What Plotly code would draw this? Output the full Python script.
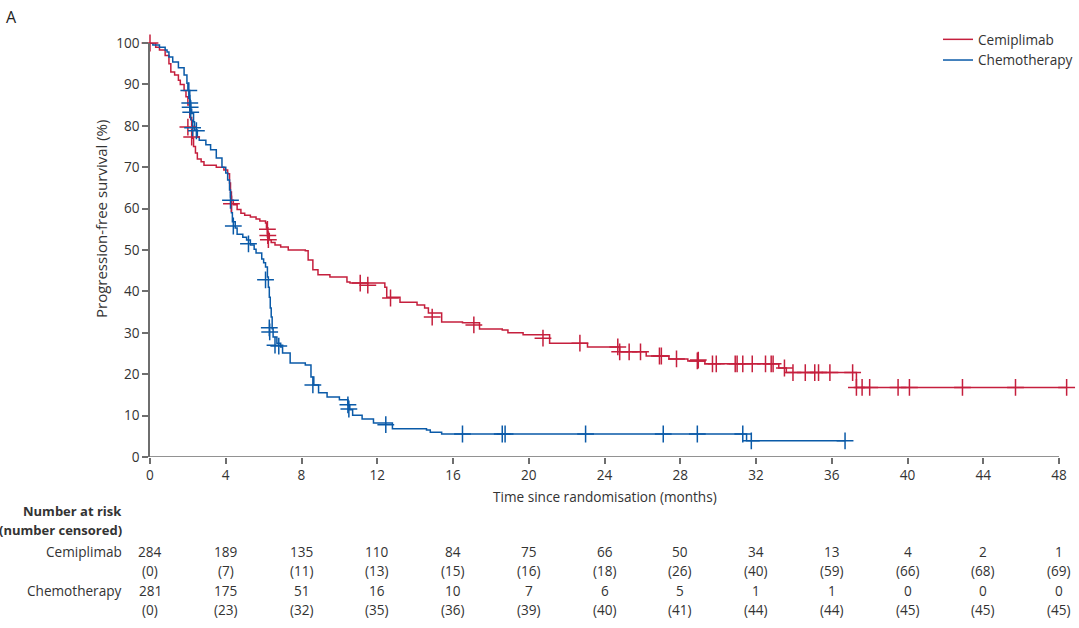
import plotly.graph_objects as go

# ---------------- data ----------------
cemi_t = [0, 0.3, 0.5, 0.8, 1.0, 1.1, 1.3, 1.5, 1.6, 1.8, 1.9, 2.0, 2.1, 2.2, 2.25, 2.3, 2.4, 2.5, 2.7,
          2.85, 3.5, 3.9, 4.1, 4.2, 4.25, 4.3, 4.4, 4.6, 4.8, 5.0, 5.3, 5.6, 5.8, 6.1, 6.15, 6.2, 6.3,
          6.4, 6.6, 6.9, 7.3, 8.2, 8.35, 8.6, 8.87, 9.5, 10.4, 10.56, 12.4, 12.5, 13.2, 14.1, 14.5,
          14.7, 15.4, 16.5, 17.4, 18.6, 18.9, 19.7, 21.1, 23.1, 24.8, 26.2, 27.4, 28.4, 29.3, 33.2,
          33.6, 37.3, 48.4]
cemi_s = [100, 99, 98.3, 97, 95, 93, 92.3, 91, 90, 88.5, 87, 85, 82, 80, 77, 75, 73.4, 72, 71.3,
          70.5, 70, 69.3, 68.4, 66.2, 64, 62, 60.9, 59.8, 58.9, 58.4, 58, 57.5, 57, 56.5, 55.3, 54, 52.5,
          51.8, 51.2, 50.7, 50, 49.8, 47.6, 45.2, 44, 43.5, 42.3, 42, 41, 38.6, 37.4, 36.7, 36,
          34.8, 32.6, 32.4, 30.9, 30.7, 30.0, 29.5, 27.5, 26.6, 25.4, 24.4, 23.7, 23.2, 22.5, 21.5,
          20.4, 16.8, 16.8]
cemi_cens_t = [0, 2.0, 2.2, 4.3, 6.2, 6.22, 6.25, 11.1, 11.5, 12.7, 14.9, 17.1, 20.75, 22.7, 24.7,
               24.8, 25.3, 25.9, 26.9, 27.0, 27.8, 28.9, 28.95, 29.7, 29.9, 30.9, 31.0, 31.3, 31.8,
               32.5, 32.8, 32.9, 33.5, 33.95, 34.6, 35.1, 35.3, 35.9, 37.1, 37.3, 37.6, 38.0, 39.5,
               40.1, 42.9, 45.7, 48.4]
cemi_cens_s = [100, 79.7, 77.3, 61.2, 55, 53.5, 52.5, 42, 41.5, 38.4, 33.8, 31.9, 28.7, 27.5, 26.6,
               25.4, 25.4, 25.4, 24.4, 24.4, 23.7, 23.2, 23.4, 22.5, 22.5, 22.5, 22.5, 22.5, 22.5,
               22.5, 22.5, 22.5, 21.5, 20.4, 20.4, 20.4, 20.4, 20.4, 20.4, 16.8, 16.8, 16.8, 16.8,
               16.8, 16.8, 16.8, 16.8]

chemo_t = [0, 0.15, 0.5, 0.8, 0.9, 1.0, 1.2, 1.5, 1.8, 1.95, 2.0, 2.1, 2.15, 2.2, 2.3, 2.35, 2.5,
           2.6, 2.95, 3.2, 3.5, 3.8, 4.0, 4.1, 4.2, 4.25, 4.3, 4.35, 4.5, 4.6, 4.9, 5.1, 5.3, 5.5,
           5.6, 5.9, 6.0, 6.1, 6.2, 6.25, 6.3, 6.35, 6.4, 6.45, 6.5, 6.7, 6.9, 7.0, 7.4, 8.2, 8.5,
           8.65, 8.9, 9.35, 10.0, 10.45, 10.55, 10.7, 11.2, 11.8, 12.8, 14.6, 14.8, 15.4, 31.5, 36.7]
chemo_s = [100, 99.5, 99, 98.3, 97.8, 96.6, 95.4, 94, 92.3, 90.3, 88.5, 86, 84, 83, 81, 79, 77.3,
           76.5, 75.4, 74.2, 72.2, 70, 68.6, 66.9, 64.5, 62.8, 59, 56.8, 55.3, 53.8, 53.1, 52.4, 51.2,
           50.2, 49.3, 47.8, 46.9, 45.9, 43.5, 41, 38.6, 36, 33.8, 31, 29, 27.5, 26.6, 25.1, 22.7,
           22.2, 19.3, 17.4, 15.5, 14.5, 13.8, 12.5, 11.4, 10.1, 9.2, 8.2, 6.8, 6.5, 6.0, 5.55, 3.9,
           3.9]
chemo_cens_t = [2.05, 2.1, 2.12, 2.15, 2.25, 2.45, 4.25, 4.4, 5.2, 6.1, 6.3, 6.32, 6.6, 6.8, 8.6,
                10.45, 10.5, 12.45, 16.5, 18.6, 18.75, 23.0, 27.1, 28.9, 31.3, 31.75, 36.7]
chemo_cens_s = [88.5, 85.5, 84.5, 83.3, 79.5, 78.8, 62, 55.8, 51.5, 42.8, 31.2, 30.2, 27, 26.8, 17.4,
                12.6, 11.6, 7.8, 5.55, 5.55, 5.55, 5.55, 5.55, 5.55, 5.55, 3.9, 3.9]

risk_months = [0, 4, 8, 12, 16, 20, 24, 28, 32, 36, 40, 44, 48]
cemi_risk = [284, 189, 135, 110, 84, 75, 66, 50, 34, 13, 4, 2, 1]
cemi_cens = [0, 7, 11, 13, 15, 16, 18, 26, 40, 59, 66, 68, 69]
chemo_risk = [281, 175, 51, 16, 10, 7, 6, 5, 1, 1, 0, 0, 0]
chemo_cens = [0, 23, 32, 35, 36, 39, 40, 41, 44, 44, 45, 45, 45]

x_ticks = [0, 4, 8, 12, 16, 20, 24, 28, 32, 36, 40, 44, 48]
y_ticks = [0, 10, 20, 30, 40, 50, 60, 70, 80, 90, 100]

# ---------------- style ----------------
RED = "#c51f3d"
BLUE = "#0a5aa8"
AXIS = "#6e6e6e"
TXT = "#333333"
FONT = "Open Sans"
FS = 13.6

W, H = 1079, 628
ML, MR, MT, MB = 150, 1, 43, 171
PH = H - MT - MB
PW = W - ML - MR


def py(p):
    """pixel y -> paper y"""
    return (H - MB - p) / PH


def px(p):
    """pixel x -> paper x"""
    return (p - ML) / PW


fig = go.Figure()
fig.add_trace(go.Scatter(x=cemi_t, y=cemi_s, mode="lines", line=dict(color=RED, width=1.5, shape="hv"),
                         name="Cemiplimab"))
fig.add_trace(go.Scatter(x=chemo_t, y=chemo_s, mode="lines", line=dict(color=BLUE, width=1.5, shape="hv"),
                         name="Chemotherapy"))
fig.add_trace(go.Scatter(x=cemi_cens_t, y=cemi_cens_s, mode="markers", showlegend=False, cliponaxis=False,
                         marker=dict(symbol="cross-thin", size=12, line=dict(color=RED, width=1.5))))
fig.add_trace(go.Scatter(x=chemo_cens_t, y=chemo_cens_s, mode="markers", showlegend=False, cliponaxis=False,
                         marker=dict(symbol="cross-thin", size=12, line=dict(color=BLUE, width=1.5))))

# x axis line only up to 48
fig.add_shape(type="line", xref="x", yref="y", x0=0, x1=48, y0=0, y1=0,
              line=dict(color=AXIS, width=1.5), layer="above")

ann = []
ann.append(dict(text="A", xref="paper", yref="paper", x=px(4), y=py(17),
                xanchor="left", yanchor="middle", showarrow=False, font=dict(size=16, color="#222")))
ann.append(dict(text="Time since randomisation (months)", xref="x", yref="paper", x=24, y=py(496),
                xanchor="center", yanchor="middle", showarrow=False, font=dict(size=FS, color=TXT)))
ann.append(dict(text="Progression-free survival (%)", xref="paper", yref="paper",
                x=px(101), y=py(219), textangle=-90, xanchor="center", yanchor="middle",
                showarrow=False, font=dict(size=15, color=TXT)))

lx = px(124)
for txt, p, fs in [("<b>Number at risk</b>", 511, 13), ("<b>(number censored)</b>", 530, 13),
                   ("Cemiplimab", 551, FS), ("Chemotherapy", 590, FS)]:
    ann.append(dict(text=txt, xref="paper", yref="paper", x=lx, y=py(p), xanchor="right", yanchor="middle",
                    showarrow=False, font=dict(size=fs, color=TXT)))

rows = [(cemi_risk, 551, "{}"), (cemi_cens, 570, "({})"), (chemo_risk, 590, "{}"), (chemo_cens, 609, "({})")]
for vals, p, fmt in rows:
    for m, v in zip(risk_months, vals):
        ann.append(dict(text=fmt.format(v), xref="x", yref="paper", x=m, y=py(p), xanchor="center",
                        yanchor="middle", showarrow=False, font=dict(size=FS, color=TXT)))

fig.update_layout(
    width=W, height=H,
    margin=dict(l=ML, r=MR, t=MT, b=MB),
    plot_bgcolor="white", paper_bgcolor="white",
    font=dict(family=FONT, size=FS, color=TXT),
    showlegend=True,
    legend=dict(x=1, xanchor="right", y=py(24), yanchor="top", bgcolor="rgba(0,0,0,0)",
                font=dict(size=FS, color=TXT), tracegroupgap=0, itemwidth=30),
    annotations=ann,
    xaxis=dict(range=[0, 49.0], tickvals=x_ticks, ticks="outside", ticklen=6, tickcolor=AXIS, tickwidth=1.5,
               showline=False, showgrid=False, zeroline=False, tickfont=dict(size=FS, color=TXT)),
    yaxis=dict(range=[0, 100], tickvals=y_ticks, ticks="outside", ticklen=6, tickcolor=AXIS, tickwidth=1.5,
               showline=True, linecolor=AXIS, linewidth=1.5, showgrid=False, zeroline=False,
               tickfont=dict(size=FS, color=TXT)),
)

fig.write_html("out.html")
